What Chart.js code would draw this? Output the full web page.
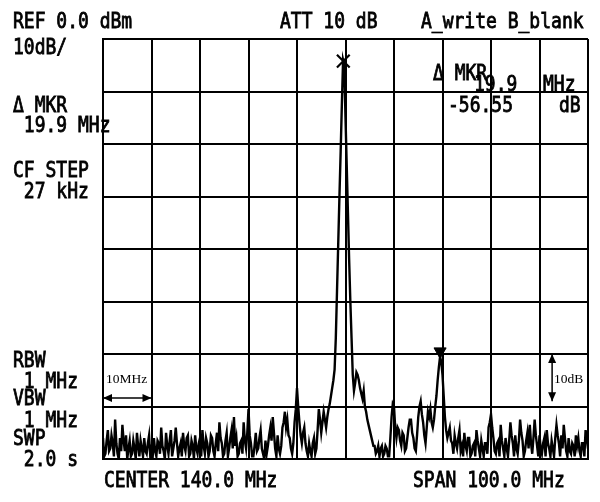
<!DOCTYPE html>
<html><head><meta charset="utf-8">
<script src="https://cdn.jsdelivr.net/npm/chart.js@4/dist/chart.umd.min.js"></script>
<style>html,body{margin:0;padding:0;background:#fff;}#wrap{width:600px;height:502px;}</style>
</head><body><div id="wrap"><canvas id="c" width="600" height="502"></canvas></div>
<script>
// ---- data ----
const freqStartMHz = 90;
const freqStepMHz = 0.25;
const levelDbm = [
 -76,-79.5,-79,-76.5,-74.5,-78.5,-78,-75.5,-77,-79.5,-72.5,-77,-79,-80,-76,-78.5,-73.5,-76.5,-78.5,-75.5,
 -80,-78,-76.5,-79.5,-79,-76.5,-78,-80,-75,-77.5,-79.5,-76.5,-78,-79.5,-76,-78.5,-79,-77,-75.5,-79.5,
 -78,-79.5,-76,-78.5,-79.5,-76.5,-77,-79,-74,-77.5,-78.5,-80,-75,-77.5,-79,-76.5,-74.5,-79.5,-78,-76.5,
 -74,-77,-79.5,-78,-77,-79.5,-75,-77.5,-78.5,-76,-75.5,-79.5,-79,-76.5,-77.5,-80,-75.5,-78,-79,-77,
 -76,-79.5,-74.5,-77.5,-79,-76,-77,-79.5,-78.5,-75.5,-76,-78.5,-79.5,-77,-75,-78.5,-73,-76,-77,-79.5,
 -79,-76.5,-75,-79.5,-78,-76,-74.5,-78,-72,-77.5,-76,-79.5,-79,-77,-76.5,-79,-73,-76.5,-78,-75,
 -70.5,-75.5,-77,-79.5,-79.5,-77.5,-75,-78.5,-78,-76,-74.5,-78,-79,-80,-76.5,-79,-77.5,-75.5,-74,-76.5,
 -72,-75,-78,-79.5,-75.5,-78,-79,-77.5,-74,-73,-71,-74,-72.5,-75.5,-76,-78,-79,-77,-73,-70.5,
 -66.5,-70,-73,-75.5,-77,-75,-74,-77,-78.5,-79.5,-77,-78.5,-79.5,-77,-76,-79,-78,-74.5,-70.5,-72.5,
 -75,-73,-71,-72.5,-74,-72,-70.5,-69.5,-68,-66.5,-65,-63,-57,-48,-39,-30,-21.5,-12.5,-4,-5,
 -15,-24,-33,-42,-50,-57,-64,-67,-65.5,-63.5,-64,-65,-66.5,-67.5,-68.5,-67,-70,-71,-72.5,-73.5,
 -74.5,-75.5,-76.5,-77.5,-77.5,-79,-78.5,-77.5,-79.5,-78,-77.5,-79.5,-79,-77.5,-78,-79.5,-79.5,-76,-72,-69.5,
 -70,-74,-76,-74,-74.5,-76.5,-77.5,-75,-75.5,-78.5,-78,-76,-74,-72.5,-72.5,-75,-76,-78,-78.5,-75.5,
 -72,-70,-69,-71.5,-73,-75.5,-77,-74,-71,-72,-70.5,-73,-74,-72.5,-70,-68,-65,-62.5,-60.5,-61.5,
 -64,-68,-72,-74.5,-76,-75,-74,-76.5,-77,-79,-75.5,-77,-78,-76,-74.5,-78.5,-77.5,-79.5,-75,-77.5,
 -78.5,-76,-76,-79.5,-79,-77.5,-77,-79.5,-74.5,-76.5,-78,-79.5,-76.5,-78,-79.5,-77,-77,-79,-74,-73,
 -71.5,-74,-76,-78.5,-79,-77,-76.5,-79.5,-73.5,-76.5,-78,-79.5,-76,-78,-79.5,-76.5,-73,-75.5,-77,-79.5,
 -75.5,-78,-79,-76.5,-72.5,-75,-76.5,-79.5,-78.5,-76.5,-75,-78,-73.5,-77,-79,-76,-72.5,-75.5,-77.5,-79.5,
 -75.5,-78,-79,-77,-76,-79.5,-74.5,-77,-78,-79.5,-76.5,-78,-79.5,-76,-73.5,-75.5,-77,-79.5,-75.5,-78,
 -73.5,-76,-78.5,-79.5,-76,-78.5,-79,-77,-77.5,-79.5,-75.5,-77.5,-76,-78.5,-79.5,-77,-77,-79.5,-74.5,-76,
 -78
];
const xTicksMHz = [90,100,110,120,130,140,150,160,170,180,190];
const yTicksDb = [0,-10,-20,-30,-40,-50,-60,-70,-80];
const markerMain = [139.55, -4.2];   // [MHz, dBm]
const markerDelta = [159.5, -59.5];  // [MHz, dBm]
const spanArrowMHz = [90, 100];
const spanArrowDb = -68.4;
const dbArrowMHz = 182.6;
const dbArrowDb = [-60, -69];

const traceData = levelDbm.map((v, i) => ({x: freqStartMHz + i * freqStepMHz, y: v}));

const MONO = '"DejaVu Sans Mono", "Liberation Mono", monospace';
const labels = [
  ['REF 0.0 dBm', 13, 28], ['10dB/', 13, 54],
  ['ATT 10 dB', 280, 28], ['A_write B_blank', 421, 28],
  ['\u0394 MKR', 13, 112], [' 19.9 MHz', 13, 132],
  ['CF STEP', 13, 177], [' 27 kHz', 13, 198],
  ['RBW', 13, 367], [' 1 MHz', 13, 388],
  ['VBW', 13, 405], [' 1 MHz', 13, 427],
  ['SWP', 13, 445], [' 2.0 s', 13, 466],
  ['CENTER 140.0 MHz', 104, 487], ['SPAN 100.0 MHz', 413, 487],
  ['\u0394 MKR', 433, 80], ['19.9', 474, 91], ['MHz', 543, 91],
  ['-56.55', 448, 112], ['dB', 559, 112]
];

const overlay = {
  id: 'overlay',
  afterDraw(chart) {
    const ctx = chart.ctx, xs = chart.scales.x, ys = chart.scales.y;
    ctx.save();
    ctx.fillStyle = '#000';
    ctx.strokeStyle = '#000';
    ctx.textBaseline = 'alphabetic';
    ctx.font = '18px ' + MONO;
    ctx.lineWidth = 0.7;
    for (const [t, x, y] of labels) {
      ctx.save();
      ctx.translate(x, y);
      ctx.scale(1, 1.2);
      ctx.fillText(t, 0, 0);
      ctx.strokeText(t, 0, 0);
      ctx.restore();
    }
    // span arrow
    ctx.lineWidth = 1.5;
    const ax1 = xs.getPixelForValue(spanArrowMHz[0]), ax2 = xs.getPixelForValue(spanArrowMHz[1]);
    const ay = ys.getPixelForValue(spanArrowDb);
    ctx.beginPath(); ctx.moveTo(ax1, ay); ctx.lineTo(ax2, ay); ctx.stroke();
    const head = (x, y, dx, dy) => {
      ctx.beginPath();
      ctx.moveTo(x, y);
      ctx.lineTo(x - dx * 9 - dy * 4, y - dy * 9 - dx * 4);
      ctx.lineTo(x - dx * 9 + dy * 4, y - dy * 9 + dx * 4);
      ctx.closePath(); ctx.fill();
    };
    head(ax1, ay, -1, 0); head(ax2, ay, 1, 0);
    // dB arrow
    const bx = xs.getPixelForValue(dbArrowMHz);
    const by1 = ys.getPixelForValue(dbArrowDb[0]), by2 = ys.getPixelForValue(dbArrowDb[1]);
    ctx.beginPath(); ctx.moveTo(bx, by1); ctx.lineTo(bx, by2); ctx.stroke();
    head(bx, by1, 0, -1); head(bx, by2, 0, 1);
    ctx.font = '13.5px "Liberation Serif", serif';
    ctx.fillText('10MHz', ax1 + 3, ay - 15);
    ctx.fillText('10dB', bx + 2, ys.getPixelForValue(-65.5));
    ctx.restore();
  }
};

new Chart(document.getElementById('c'), {
  type: 'line',
  data: {
    datasets: [
      {data: traceData, borderColor: '#000', borderWidth: 2.4, pointRadius: 0, tension: 0, fill: false, order: 2},
      {data: [{x: markerMain[0], y: markerMain[1]}], showLine: false, pointStyle: 'crossRot', pointRadius: 9,
       borderColor: '#000', borderWidth: 2.2, order: 1},
      {data: [{x: markerDelta[0], y: markerDelta[1]}], showLine: false, pointStyle: 'triangle', rotation: 180,
       pointRadius: 7, backgroundColor: '#000', borderColor: '#000', borderWidth: 1, order: 1}
    ]
  },
  options: {
    responsive: false,
    animation: false,
    layout: {padding: {left: 103, top: 39, right: 12, bottom: 43}},
    plugins: {legend: {display: false}, tooltip: {enabled: false}},
    scales: {
      x: {
        type: 'linear', min: 90, max: 190,
        afterBuildTicks: (s) => { s.ticks = xTicksMHz.map(v => ({value: v})); },
        ticks: {display: false},
        grid: {color: '#000', lineWidth: 2, drawTicks: false},
        border: {display: true, color: '#000', width: 2}
      },
      y: {
        type: 'linear', min: -80, max: 0,
        afterBuildTicks: (s) => { s.ticks = yTicksDb.map(v => ({value: v})); },
        ticks: {display: false},
        grid: {color: '#000', lineWidth: 2, drawTicks: false},
        border: {display: true, color: '#000', width: 2}
      }
    }
  },
  plugins: [overlay]
});
</script>
</body></html>
